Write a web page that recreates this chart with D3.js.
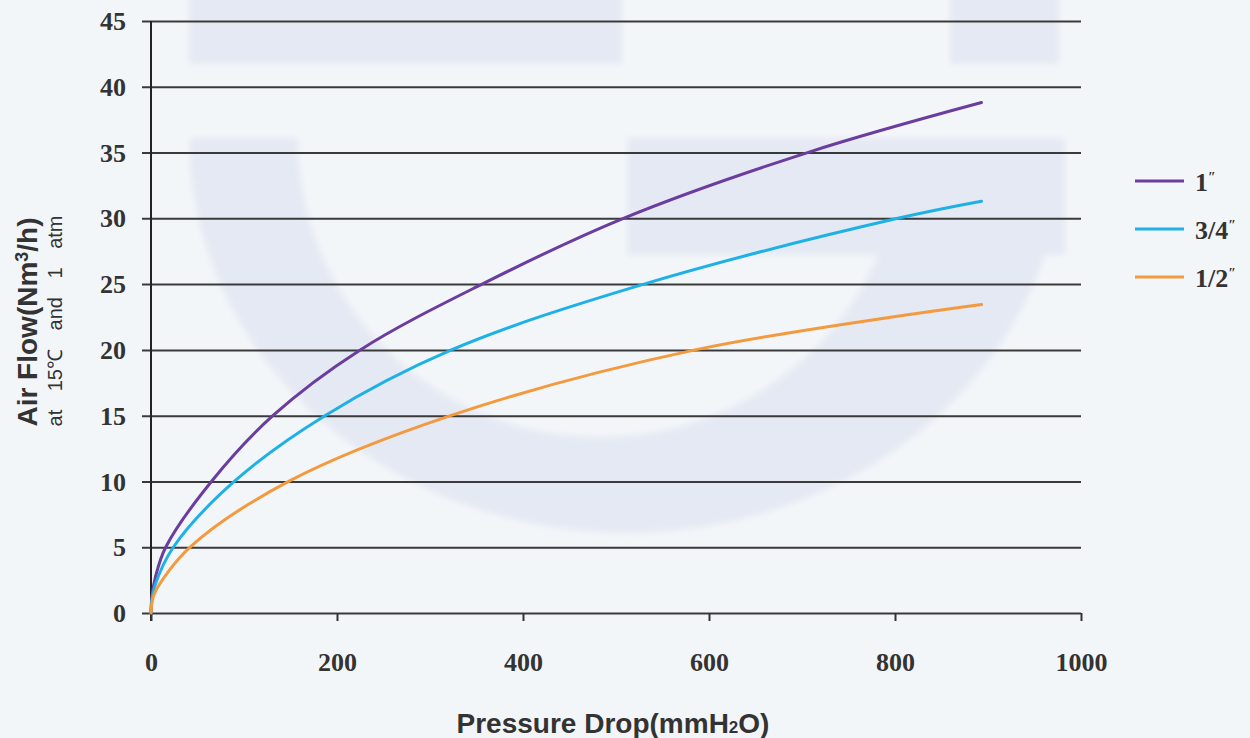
<!DOCTYPE html>
<html><head><meta charset="utf-8">
<script src="https://cdn.jsdelivr.net/npm/d3@7"></script>
<style>
html,body{margin:0;padding:0;background:#f3f6fa;}
svg{display:block;}
</style></head>
<body>
<svg id="chart" width="1250" height="738"></svg>
<script>
// ---- data ----
const seriesNames = ["1", "3/4", "1/2"];
const seriesColors = ["#6a3d9e", "#1fb1e6", "#f39a3e"];
const pressure1 = [0, 1, 5, 15.8, 65, 131, 225, 356, 508, 706, 893];
const flow1     = [0, 1.26, 2.8, 5, 10, 15, 20, 25, 30, 35, 38.8];
const pressure34 = [0, 1, 4, 24, 89.5, 187, 323, 530, 803, 893];
const flow34     = [0, 1.02, 2.04, 5, 10, 15, 20, 25, 30, 31.3];
const pressure12 = [0, 1, 4, 42, 148, 322, 585, 893];
const flow12     = [0, 0.77, 1.54, 5, 10, 15, 20, 23.45];
const xTicks = [0, 200, 400, 600, 800, 1000];
const yTicks = [0, 5, 10, 15, 20, 25, 30, 35, 40, 45];

const series = [
  {name: seriesNames[0], color: seriesColors[0], pts: pressure1.map((p,i)=>[p, flow1[i]])},
  {name: seriesNames[1], color: seriesColors[1], pts: pressure34.map((p,i)=>[p, flow34[i]])},
  {name: seriesNames[2], color: seriesColors[2], pts: pressure12.map((p,i)=>[p, flow12[i]])}
];

const svg = d3.select("#chart");
const W = 1250, H = 738;
const m = {left: 151, right: 169, top: 21, bottom: 125};
const BG = "#f3f6f9";

// background + watermark
svg.append("rect").attr("width", W).attr("height", H).attr("fill", BG);
const defs = svg.append("defs");
defs.append("filter").attr("id", "soft").attr("x", "-5%").attr("y", "-5%").attr("width", "110%").attr("height", "110%")
  .append("feGaussianBlur").attr("stdDeviation", 3);
const wm = svg.append("g").attr("fill", "#e5e9f3").attr("filter", "url(#soft)");
wm.append("rect").attr("x", 189).attr("y", -10).attr("width", 433).attr("height", 74);
wm.append("rect").attr("x", 950).attr("y", -10).attr("width", 109).attr("height", 74);
function halfEllipse(cx, cy, rx, ry) {
  return `M${cx-rx},${cy} A${rx},${ry} 0 0 0 ${cx+rx},${cy} Z`;
}
wm.append("path").attr("d", halfEllipse(627, 138, 438, 395));
wm.append("path").attr("d", halfEllipse(600, 138, 302, 299)).attr("fill", BG);
wm.append("rect").attr("x", 627).attr("y", 138).attr("width", 438).attr("height", 117);

const x = d3.scaleLinear().domain([0, 1000]).range([m.left, W - m.right]);
const y = d3.scaleLinear().domain([0, 45]).range([H - m.bottom, m.top]);

// horizontal gridlines with left tick extension
const yAxis = d3.axisLeft(y).tickValues(yTicks).tickSize(-(x(1000) - x(0))).tickSizeOuter(0).tickPadding(25).tickFormat(d3.format("d"));
const gy = svg.append("g").attr("transform", `translate(${x(0)},0)`).call(yAxis);
gy.select(".domain").remove();
gy.selectAll(".tick line").attr("x1", -9).attr("stroke", "#3a3a3a").attr("stroke-width", 2);
gy.selectAll(".tick text")
  .attr("font-family", "'Liberation Serif', serif").attr("font-weight", "bold")
  .attr("font-size", 26).attr("fill", "#333").attr("dy", "0.33em");

// y axis line
svg.append("line").attr("x1", x(0)).attr("x2", x(0)).attr("y1", y(45)).attr("y2", y(0) + 8)
  .attr("stroke", "#222").attr("stroke-width", 2);

// x axis ticks
const xAxis = d3.axisBottom(x).tickValues(xTicks).tickSize(8).tickSizeOuter(0).tickPadding(32).tickFormat(d3.format("d"));
const gx = svg.append("g").attr("transform", `translate(0,${y(0)})`).call(xAxis);
gx.select(".domain").remove();
gx.selectAll(".tick line").attr("stroke", "#333").attr("stroke-width", 2);
gx.selectAll(".tick text")
  .attr("font-family", "'Liberation Serif', serif").attr("font-weight", "bold")
  .attr("font-size", 26).attr("fill", "#333");

// curves
const line = d3.line().x(d => x(d[0])).y(d => y(d[1])).curve(d3.curveCatmullRom.alpha(0.5));
svg.append("g").selectAll("path").data(series).join("path")
  .attr("d", d => line(d.pts)).attr("fill", "none")
  .attr("stroke", d => d.color).attr("stroke-width", 3).attr("stroke-linecap", "round");

// axis titles
const xt = svg.append("text").attr("x", 613).attr("y", 733).attr("text-anchor", "middle")
  .attr("font-family", "'Liberation Sans', Arial, sans-serif").attr("font-weight", "bold")
  .attr("font-size", 28).attr("fill", "#333");
xt.append("tspan").text("Pressure Drop(mmH");
xt.append("tspan").attr("font-size", 17).text("2");
xt.append("tspan").text("O)");

const yt = svg.append("text").attr("transform", "translate(37,322) rotate(-90)").attr("text-anchor", "middle")
  .attr("font-family", "'Liberation Sans', Arial, sans-serif").attr("font-weight", "bold")
  .attr("font-size", 28).attr("fill", "#333");
yt.append("tspan").text("Air Flow(Nm");
yt.append("tspan").attr("font-size", 18).attr("dy", -9).text("3");
yt.append("tspan").attr("dy", 9).text("/h)");

svg.append("text").attr("transform", "translate(62,321) rotate(-90)").attr("text-anchor", "middle")
  .attr("font-family", "'Liberation Sans', Arial, sans-serif")
  .attr("font-size", 20).attr("word-spacing", 13)
  .attr("fill", "#333").text("at 15℃ and 1 atm");

// legend
const lg = svg.append("g").selectAll("g").data(series).join("g")
  .attr("transform", (d, i) => `translate(1135,${181 + i * 48})`);
lg.append("line").attr("x1", 0).attr("x2", 49).attr("stroke", d => d.color).attr("stroke-width", 3);
const lt = lg.append("text").attr("x", 60).attr("dy", "0.38em")
  .attr("font-family", "'Liberation Serif', serif").attr("font-weight", "bold")
  .attr("font-size", 26).attr("fill", "#333");
lt.append("tspan").text(d => d.name);
lt.append("tspan").attr("font-size", 14).attr("dy", -9).text("″");
</script>
</body></html>
